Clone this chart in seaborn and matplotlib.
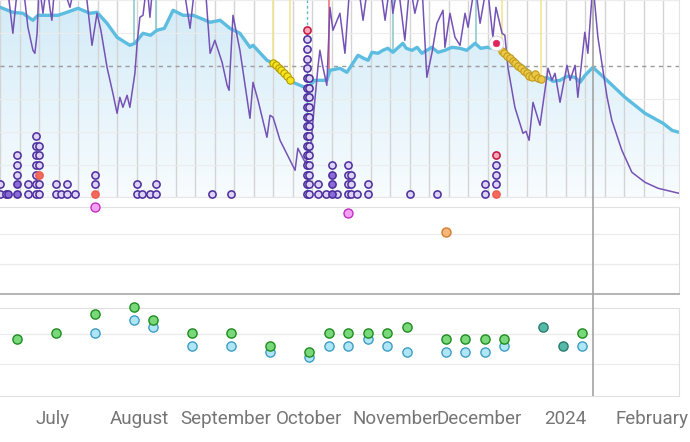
import numpy as np
import pandas as pd
import matplotlib
matplotlib.use("Agg")
import matplotlib.pyplot as plt
import matplotlib.dates as mdates
from matplotlib.colors import LinearSegmentedColormap
import seaborn as sns

# ------------------------------------------------------------------ data
BASE = "2023-07-01"          # day offsets below are counted from this date
view_start = "2023-06-11 23:30"
view_end = "2024-02-10 17:00"
today = "2024-01-10 20:00"

# thin purple daily series (top panel)
purple_day = [-19.0, -16.5, -14.4, -12.6, -10.8, -9.0, -7.2, -6.5, -5.7, -5.0,
              -3.6, -2.2, -1.1, -0.4, 0.7, 3.2, 6.1, 7.9, 11.5, 14.0,
              15.8, 17.2, 19.4, 21.5, 23.0, 24.0, 25.1, 26.6, 27.6, 29.4,
              30.2, 31.2, 32.3, 33.7, 34.8, 35.9, 38.4, 46.7, 49.2, 51.0,
              54.6, 56.4, 58.1, 60.7, 62.5, 63.2, 64.6, 67.1, 70.7, 71.8,
              73.6, 76.8, 77.9, 79.0, 81.5, 85.1, 86.9, 87.9, 90.5, 92.2,
              94.0, 95.1, 95.8, 96.9, 98.3, 99.4, 100.5, 103.0, 104.8, 106.6,
              109.5, 111.3, 113.1, 117.4, 119.2, 121.0, 122.0, 123.8, 126.3, 128.1,
              129.9, 132.4, 134.2, 136.0, 137.8, 140.0, 140.7, 142.5, 144.3, 146.1,
              147.9, 149.0, 151.5, 153.3, 155.8, 157.9, 159.0, 161.2, 162.2, 163.3,
              165.8, 168.7, 169.8, 170.9, 172.3, 174.8, 177.7, 179.1, 180.2, 182.0,
              184.5, 185.6, 187.4, 188.4, 190.9, 192.0, 193.8, 195.6, 198.9, 200.6,
              204.2, 207.8, 212.5, 217.2, 224.7]
purple_val = [215, 215, 165, 215, 215, 171, 148, 145, 165, 215,
              185, 215, 190, 178, 215, 215, 191, 215, 215, 153,
              185, 168, 131, 105, 85, 101, 91, 103, 91, 125,
              155, 181, 183, 215, 181, 215, 215, 215, 170, 215,
              215, 145, 158, 136, 113, 108, 183, 148, 80, 116,
              98, 61, 83, 81, 58, 38, 28, 50, 36, 43,
              98, 131, 148, 131, 113, 191, 168, 185, 145, 215,
              215, 178, 215, 215, 178, 215, 185, 215, 158, 215,
              185, 215, 121, 145, 175, 188, 151, 185, 161, 153,
              185, 171, 215, 175, 215, 161, 191, 165, 163, 131,
              91, 65, 67, 58, 96, 73, 130, 118, 125, 96,
              133, 118, 133, 101, 166, 145, 215, 161, 101, 78,
              48, 26, 16, 10, 5]

# thick cyan smoothed series with filled area (top panel)
cyan_day = [-19.0, -14.4, -10.8, -7.2, -5.4, 1.8, 5.0, 9.0, 13.3, 15.8,
            19.4, 23.0, 27.6, 29.4, 32.3, 35.0, 37.3, 40.0, 43.1, 46.7,
            50.3, 53.0, 56.4, 60.0, 63.5, 67.1, 70.7, 71.8, 76.8, 79.0,
            84.4, 91.2, 94.0, 98.3, 99.4, 103.0, 105.5, 109.5, 111.5, 113.1,
            114.5, 116.7, 118.4, 120.2, 122.0, 125.6, 126.8, 128.9, 130.7, 132.4,
            134.2, 136.0, 138.2, 140.7, 143.2, 146.1, 148.5, 151.5, 153.5, 155.8,
            157.5, 159.4, 161.2, 174.8, 177.3, 179.5, 182.0, 184.5, 187.4, 189.2,
            191.0, 193.8, 198.1, 205.3, 212.5, 219.0, 222.2, 224.7]
cyan_val = [191, 186, 185, 178, 183, 183, 186, 190, 185, 186,
            175, 161, 153, 155, 165, 163, 168, 170, 188, 183,
            183, 180, 176, 178, 170, 165, 151, 153, 138, 135,
            118, 110, 118, 118, 128, 130, 126, 143, 140, 138,
            146, 145, 148, 150, 146, 155, 150, 148, 151, 145,
            148, 151, 146, 148, 151, 150, 148, 155, 150, 151,
            150, 153, 148, 118, 121, 117, 118, 122, 121, 116,
            123, 131, 120, 101, 85, 75, 68, 66]

# yellow streak dots on the cyan line
sept_run_date = ["2023-09-18", "2023-09-19", "2023-09-20", "2023-09-21",
                 "2023-09-22", "2023-09-23", "2023-09-24"]
sept_run_val = [135, 133, 130, 128, 125, 122, 118]
dec_run_date = ["2023-12-09", "2023-12-10", "2023-12-11", "2023-12-12", "2023-12-13",
                "2023-12-14", "2023-12-15", "2023-12-16", "2023-12-17", "2023-12-18",
                "2023-12-19", "2023-12-20", "2023-12-21", "2023-12-22", "2023-12-23"]
dec_run_val = [147, 145, 142, 140, 137, 135, 132, 130, 127, 125, 122, 121, 124, 120.5, 119]

# event marker lines hanging from the top
teal_line_date = ["2023-07-30", "2023-08-07", "2023-10-31", "2023-11-30"]
teal_dash_date = ["2023-09-30"]
red_line_date = ["2023-10-08"]
yellow_line_date = ["2023-09-18", "2023-09-24", "2023-12-09", "2023-12-23"]

alert_point_date = ["2023-12-07"]
alert_point_val = [155]

# stacked event counts along the bottom of the top panel
stack_date = ["2023-06-12", "2023-06-14", "2023-06-15", "2023-06-18", "2023-06-22",
              "2023-06-25", "2023-06-26", "2023-07-02", "2023-07-04", "2023-07-06",
              "2023-07-09", "2023-07-16", "2023-07-31", "2023-08-02", "2023-08-05",
              "2023-08-07", "2023-08-27", "2023-09-03", "2023-09-30", "2023-10-01",
              "2023-10-04", "2023-10-07", "2023-10-09", "2023-10-11", "2023-10-15",
              "2023-10-16", "2023-10-18", "2023-10-22", "2023-11-06", "2023-11-16",
              "2023-12-03", "2023-12-07"]
stack_count = [2, 1, 1, 5, 2, 7, 6, 2, 1, 2,
               1, 3, 2, 1, 1, 2, 1, 1, 18, 13,
               2, 1, 4, 1, 4, 3, 1, 2, 1, 1,
               2, 5]
filled_date = ["2023-06-15", "2023-06-18", "2023-06-18", "2023-10-09", "2023-10-09", "2023-10-09"]
filled_level = [0, 0, 1, 0, 1, 2]
red_date = ["2023-06-26", "2023-07-16", "2023-12-07"]
red_level = [2, 0, 0]
alert_date = ["2023-09-30", "2023-12-07"]
alert_level = [17, 4]

# middle panel
pink_date = ["2023-07-16", "2023-10-15"]
pink_val = [14.5, 13.45]
orange_date = ["2023-11-19"]
orange_val = [10.3]

# bottom panel
green_date = ["2023-06-18", "2023-07-02", "2023-07-16", "2023-07-30", "2023-08-06",
              "2023-08-20", "2023-09-03", "2023-09-17", "2023-10-01", "2023-10-08",
              "2023-10-15", "2023-10-22", "2023-10-29", "2023-11-05", "2023-11-19",
              "2023-11-26", "2023-12-03", "2023-12-10", "2024-01-07"]
green_val = [9.1, 10.1, 13.3, 14.5, 12.3, 10.1, 10.1, 8.0, 7.0, 10.1,
             10.1, 10.1, 10.1, 11.2, 9.1, 9.1, 9.1, 9.1, 10.1]
blue_date = ["2023-07-16", "2023-07-30", "2023-08-06", "2023-08-20", "2023-09-03",
             "2023-09-17", "2023-10-01", "2023-10-08", "2023-10-15", "2023-10-22",
             "2023-10-29", "2023-11-05", "2023-11-19", "2023-11-26", "2023-12-03",
             "2023-12-10", "2024-01-07"]
blue_val = [10.1, 12.3, 11.2, 8.0, 8.0, 7.0, 6.1, 8.0, 8.0, 9.1,
            8.0, 7.0, 7.0, 7.0, 7.0, 8.0, 8.0]
teal_date = ["2023-12-24", "2023-12-31"]
teal_val = [11.2, 8.0]

month_tick = ["2023-07-01", "2023-08-01", "2023-09-01", "2023-10-01",
              "2023-11-01", "2023-12-01", "2024-01-01", "2024-02-01"]
month_label = ["July", "August", "September", "October", "November",
               "December", "2024", "February"]

# ------------------------------------------------------------------ helpers
def days_num(days):
    return mdates.date2num(pd.Timestamp(BASE) + pd.to_timedelta(np.asarray(days, float), unit="D"))

def dnum(dates):
    return mdates.date2num(pd.to_datetime(list(dates)))

sns.set_style("white")
plt.rcParams["font.family"] = ["Roboto", "DejaVu Sans"]

W, H = 690, 442
fig = plt.figure(figsize=(W / 100, H / 100), dpi=100)
AXW = 679 / W

def box(top_px, bot_px):
    return [0, 1 - bot_px / H, AXW, (bot_px - top_px) / H]

ax_top = fig.add_axes(box(0, 197.3))
ax_mid = fig.add_axes(box(207, 294))
ax_bot = fig.add_axes(box(308, 396))

x0, x1 = dnum([view_start])[0], dnum([view_end])[0]
TOP_LIM = (1, 198.3)
for ax in (ax_top, ax_mid, ax_bot):
    ax.set_xlim(x0, x1)
    ax.set_facecolor("white")
    ax.tick_params(left=False, labelleft=False)
    ax.spines["left"].set_visible(False)

# ------------------------------------------------------------------ top panel
ax = ax_top
ax.set_ylim(*TOP_LIM)
cx = days_num(cyan_day)
cy = np.asarray(cyan_val, float)

# gradient area under the cyan line
poly = ax.fill_between(cx, cy, 0, facecolor="none", edgecolor="none")
grad = np.linspace(0, 1, 256).reshape(-1, 1)
cmap = LinearSegmentedColormap.from_list("fillgrad", ["#f8fcfe", "#d2ebf8"])
im = ax.imshow(grad, extent=[cx.min(), cx.max(), 0, TOP_LIM[1]], origin="lower",
               aspect="auto", cmap=cmap, zorder=0.2)
im.set_clip_path(poly.get_paths()[0], transform=ax.transData)
ax.set_xlim(x0, x1)
ax.set_ylim(*TOP_LIM)

# grid
ax.set_yticks([33, 66, 99, 165, 198])
ax.grid(axis="y", color="#ececec", lw=0.8)
ax.xaxis.set_minor_locator(mdates.WeekdayLocator(byweekday=mdates.MO))
ax.grid(axis="x", which="minor", color="#d4d4d4", lw=1.0)
ax.set_axisbelow(True)
ax.tick_params(axis="x", which="both", bottom=False, labelbottom=False)
ax.axhline(132, color="#9b9b9b", lw=1.0, dashes=(3, 3), zorder=1.4)
ax.spines["top"].set_visible(False)
ax.spines["right"].set_color("#e3e3e3")
ax.spines["bottom"].set_color("#e6e6e6")

# event lines hanging from the top down to the cyan line
def hang(dates, color, lw, **kw):
    xs = dnum(dates)
    ax.vlines(xs, np.interp(xs, cx, cy), TOP_LIM[1], colors=color, lw=lw, zorder=1.5, **kw)

hang(teal_line_date, "#86c6cb", 1.1)
hang(yellow_line_date, "#f1e38c", 1.1)
hang(red_line_date, "#f08a8a", 1.4)
ax.vlines(dnum(teal_dash_date), TOP_LIM[0], TOP_LIM[1], colors="#5fb8bf", lw=1.0,
          linestyles=(0, (2, 2)), zorder=1.5)

sns.lineplot(x=cx, y=cy, ax=ax, color="#5cbde0", lw=2.4, estimator=None, sort=False, zorder=2)
sns.lineplot(x=days_num(purple_day), y=purple_val, ax=ax, color="#7552b6", lw=1.1,
             estimator=None, sort=False, zorder=3)

sns.scatterplot(x=dnum(sept_run_date), y=sept_run_val, ax=ax, color="#f7e51c",
                edgecolor="#b39b00", linewidth=0.8, s=28, zorder=4, legend=False)
sns.scatterplot(x=dnum(dec_run_date), y=dec_run_val, ax=ax, color="#ecc844",
                edgecolor="#c19a1c", linewidth=0.8, s=28, zorder=4, legend=False)

# stacked markers
STACK_BASE, STACK_STEP = 4.3, 9.67
rows = []
for d, c in zip(stack_date, stack_count):
    for lvl in range(c):
        rows.append((d, lvl))
stack = pd.DataFrame(rows, columns=["date", "level"])
kind = {}
for dl, lv, k in ([(d, l, "filled") for d, l in zip(filled_date, filled_level)] +
                  [(d, l, "red") for d, l in zip(red_date, red_level)] +
                  [(d, l, "alert") for d, l in zip(alert_date, alert_level)]):
    kind[(dl, lv)] = k
stack["kind"] = [kind.get((d, l), "plain") for d, l in zip(stack.date, stack.level)]
stack["x"] = dnum(stack.date)
stack["y"] = STACK_BASE + stack.level * STACK_STEP
styles = {"plain": ("#ddd3f8", "#4a2b9b"), "filled": ("#8b6bd7", "#4a2b9b"),
          "red": ("#f36a5d", "#ee5c52"), "alert": ("#f7a7b8", "#c6123e")}
for k, (fc, ec) in styles.items():
    sub = stack[stack.kind == k]
    if len(sub):
        sns.scatterplot(data=sub, x="x", y="y", ax=ax, color=fc, edgecolor=ec,
                        linewidth=1.1, s=27, zorder=5, legend=False, clip_on=False)

# highlighted alert point with halo
ax_pts = dnum(alert_point_date)
sns.scatterplot(x=ax_pts, y=alert_point_val, ax=ax, color="white", edgecolor="#d8dde0",
                linewidth=0.8, s=110, zorder=6, legend=False)
sns.scatterplot(x=ax_pts, y=alert_point_val, ax=ax, color="#e0245e", edgecolor="#e0245e",
                linewidth=0.5, s=22, zorder=7, legend=False)
ax.set_xlabel("")
ax.set_ylabel("")

# ------------------------------------------------------------------ middle panel
ax = ax_mid
ax.set_ylim(0, 14.5)
ax.set_yticks([5, 10])
ax.grid(axis="y", color="#ebebeb", lw=0.9)
ax.grid(axis="x", visible=False)
ax.set_axisbelow(True)
ax.tick_params(axis="x", which="both", bottom=False, labelbottom=False)
ax.spines["top"].set_color("#e2e2e2")
ax.spines["right"].set_color("#dedede")
ax.spines["bottom"].set_color("#b4b4b4")
ax.spines["bottom"].set_linewidth(1.4)
sns.scatterplot(x=dnum(pink_date), y=pink_val, ax=ax, color="#f3a2f3", edgecolor="#c32dc3",
                linewidth=1.0, s=42, zorder=5, legend=False, clip_on=False)
sns.scatterplot(x=dnum(orange_date), y=orange_val, ax=ax, color="#f7b67b", edgecolor="#d27b2a",
                linewidth=1.0, s=42, zorder=5, legend=False, clip_on=False)
ax.set_xlabel("")
ax.set_ylabel("")

# ------------------------------------------------------------------ bottom panel
ax = ax_bot
ax.set_ylim(-0.33, 14.33)
ax.set_yticks([5, 10])
ax.grid(axis="y", color="#ebebeb", lw=0.9)
ax.set_axisbelow(True)
for s in ("top", "right", "bottom"):
    ax.spines[s].set_color("#e0e0e0")
sns.scatterplot(x=dnum(blue_date), y=blue_val, ax=ax, color="#afe6f5", edgecolor="#3f9dc4",
                linewidth=1.0, s=44, zorder=4, legend=False, clip_on=False)
sns.scatterplot(x=dnum(green_date), y=green_val, ax=ax, color="#79d879", edgecolor="#1f8c1f",
                linewidth=1.0, s=44, zorder=5, legend=False, clip_on=False)
sns.scatterplot(x=dnum(teal_date), y=teal_val, ax=ax, color="#55b9a7", edgecolor="#2b7c70",
                linewidth=1.0, s=44, zorder=5, legend=False, clip_on=False)
ax.set_xticks(dnum(month_tick))
ax.set_xticklabels(month_label)
ax.tick_params(axis="x", which="major", length=4, width=1, color="#d0d0d0",
               labelcolor="#757575", labelsize=13.5, pad=6)
ax.tick_params(axis="x", which="minor", length=0)
ax.set_xlabel("")
ax.set_ylabel("")

# ------------------------------------------------------------------ "today" line across panels
ax_ov = fig.add_axes(box(0, 396))
ax_ov.set_xlim(x0, x1)
ax_ov.set_ylim(0, 1)
ax_ov.axis("off")
ax_ov.patch.set_alpha(0)
ax_ov.axvline(dnum([today])[0], color="#a3a3a3", lw=1.2)

fig.savefig("out.png", dpi=100)
